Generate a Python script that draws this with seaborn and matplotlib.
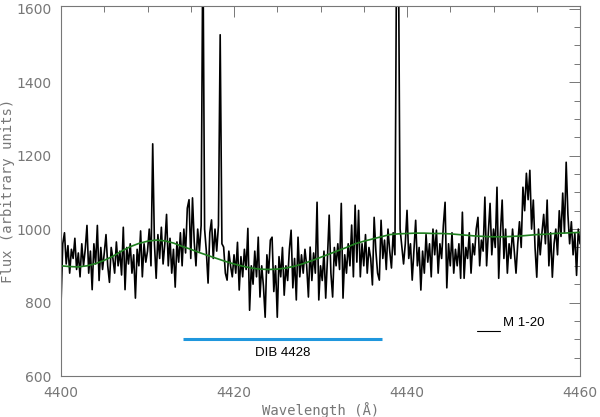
import numpy as np
import pandas as pd
import matplotlib
matplotlib.use("Agg")
import matplotlib.pyplot as plt
import seaborn as sns
from matplotlib.ticker import MultipleLocator

# spectrum, sampled every 0.2 A from 4400 to 4460
wave_start = 4400.0
wave_step = 0.2
flux = [
    795, 960, 990, 905, 955, 880, 945, 920, 975, 890,
    935, 870, 960, 900, 945, 1010, 880, 940, 835, 960,
    905, 1010, 860, 950, 890, 935, 985, 900, 855, 950,
    920, 880, 965, 900, 940, 875, 1005, 835, 950, 905,
    960, 880, 930, 812, 945, 900, 995, 870, 960, 910,
    940, 1000, 900, 1232, 960, 866, 985, 920, 1005, 905,
    960, 1040, 900, 975, 880, 945, 842, 965, 910, 990,
    900, 1000, 935, 1057, 1080, 920, 1085, 965, 900, 1000,
    940, 1010, 1800, 1000, 940, 853, 990, 1025, 920, 1000,
    940, 1010, 1529, 960, 951, 880, 861, 940, 900, 870,
    930, 880, 964, 834, 925, 870, 945, 890, 1002, 779,
    900, 850, 940, 870, 978, 815, 900, 845, 760, 930,
    880, 970, 978, 830, 900, 760, 925, 870, 950, 820,
    900, 860, 945, 997, 840, 920, 807, 978, 870, 930,
    880, 945, 900, 815, 951, 860, 935, 880, 1073, 807,
    900, 860, 940, 812, 920, 1038, 880, 815, 950, 900,
    960, 890, 1070, 812, 930, 880, 960, 900, 1011, 870,
    1065, 910, 1051, 870, 960, 900, 985, 880, 950, 920,
    848, 1032, 940, 880, 861, 1024, 920, 970, 890, 1000,
    940, 894, 990, 930, 1800, 1800, 1000, 951, 905, 960,
    1051, 920, 960, 861, 945, 1024, 900, 950, 834, 940,
    880, 985, 910, 960, 870, 1000, 930, 997, 880, 960,
    920, 1010, 1073, 840, 960, 900, 990, 880, 945, 900,
    960, 866, 1046, 866, 950, 920, 990, 880, 960, 930,
    1000, 1032, 900, 970, 940, 1087, 900, 990, 1070, 930,
    1000, 950, 1114, 866, 990, 1079, 920, 1000, 880, 960,
    920, 1000, 940, 880, 960, 1020, 950, 1114, 1050, 1152,
    1080, 1160, 1000, 1079, 950, 869, 1000, 930, 990, 1040,
    960, 1079, 900, 990, 869, 960, 1000, 930, 1050, 980,
    1098, 990, 1182, 1040, 960, 1020, 930, 990, 874, 1000,
    960,
]

# continuum fit, one value per angstrom
cont_wave = list(range(4400, 4461))
continuum = [
    900, 898, 897, 900, 906, 915, 926, 940, 952, 961,
    967, 970, 968, 962, 953, 945, 936, 928, 920, 912,
    905, 899, 894, 891, 890, 891, 894, 899, 906, 914,
    923, 932, 941, 950, 960, 967, 973, 979, 985, 987,
    988, 989, 989, 988, 988, 987, 985, 983, 981, 980,
    979, 979, 980, 981, 983, 985, 986, 988, 989, 990,
    991,
]

# DIB band marker and label
dib_range = [4414.1, 4437.1]
dib_level = 700
dib_label = "DIB 4428"
obj_label = "M 1-20"

wave = wave_start + wave_step * np.arange(len(flux))
spec = pd.DataFrame({"wave": wave, "flux": flux})
cont = pd.DataFrame({"wave": cont_wave, "flux": continuum})

sns.set_style("white")
grey = "#777777"

fig = plt.figure(figsize=(6.0, 4.17), dpi=100)
ax = fig.add_axes([0.1017, 0.0983, 0.865, 0.887])

sns.lineplot(data=spec, x="wave", y="flux", ax=ax, color="black",
             linewidth=1.2, estimator=None, sort=False)
sns.lineplot(data=cont, x="wave", y="flux", ax=ax, color="#1f7f1f",
             linewidth=1.2, estimator=None, sort=False)

ax.plot(dib_range, [dib_level, dib_level], color="#1f97dd", linewidth=2.2,
        solid_capstyle="butt")
ax.text(sum(dib_range) / 2, 662, dib_label, ha="center", va="center",
        fontsize=9.5, family="Liberation Sans", color="black")
ax.plot([4448.1, 4450.8], [722, 722], color="black", linewidth=0.8)
ax.text(4451.1, 744, obj_label, ha="left", va="center",
        fontsize=9.5, family="Liberation Sans", color="black")

ax.set_xlim(4400, 4460)
ax.set_ylim(600, 1607)

ax.xaxis.set_major_locator(MultipleLocator(20))
ax.xaxis.set_minor_locator(MultipleLocator(5))
ax.yaxis.set_major_locator(MultipleLocator(200))
ax.yaxis.set_minor_locator(MultipleLocator(50))
ax.tick_params(which="both", direction="in", top=True, right=True,
               color=grey, labelcolor=grey, labelsize=10, width=0.7)
ax.tick_params(which="major", length=8, pad=7)
ax.tick_params(which="minor", length=4)
for lab in ax.get_xticklabels() + ax.get_yticklabels():
    lab.set_family("DejaVu Sans")

for sp in ax.spines.values():
    sp.set_color(grey)
    sp.set_linewidth(0.8)

ax.set_xlabel("Wavelength (Å)", family="DejaVu Sans Mono", color=grey,
              fontsize=10, labelpad=2)
ax.set_ylabel("Flux (arbitrary units)", family="DejaVu Sans Mono", color=grey,
              fontsize=10)
ax.yaxis.set_label_coords(-0.088, 0.5)

fig.savefig("out.png", dpi=100)
